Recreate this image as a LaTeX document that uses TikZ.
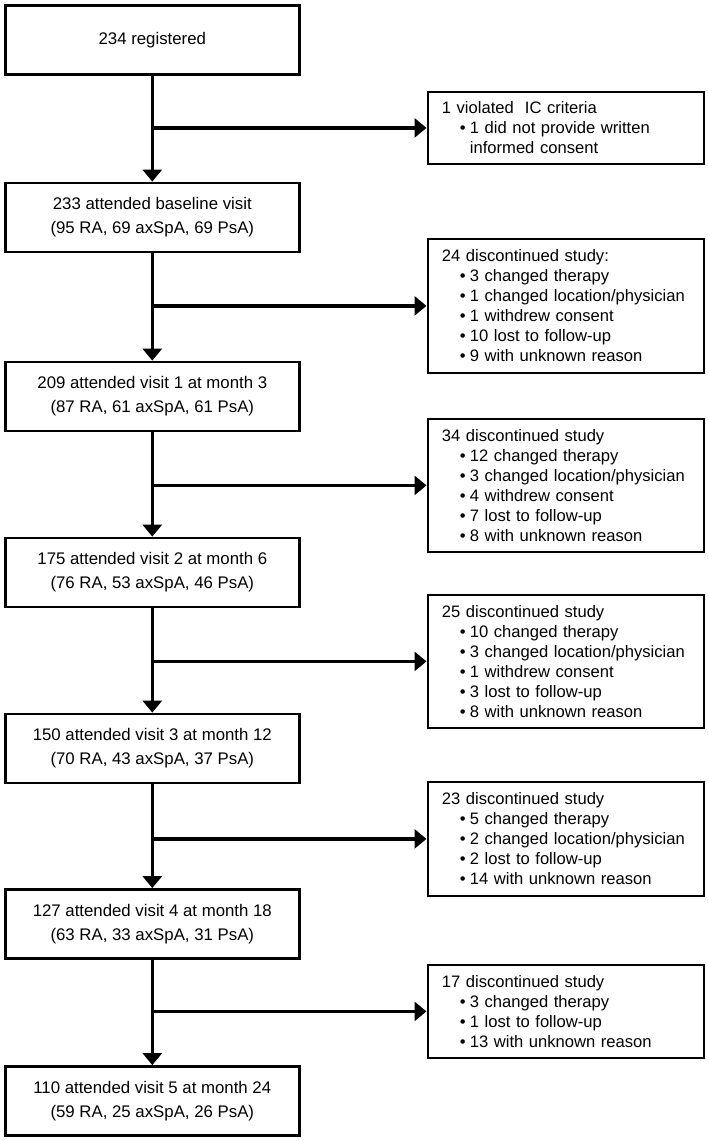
\documentclass[tikz,border=0pt]{standalone}
\usepackage{fontspec}
\setmainfont{Liberation Sans}
\usetikzlibrary{arrows.meta}
\newcommand\itm[1]{\hspace*{18pt}\makebox[10pt][l]{•}#1}
\begin{document}
\begin{tikzpicture}[x=1pt,y=-1pt,
  lbox/.style={draw, line width=2.8pt, minimum width=294pt, minimum height=69pt,
    align=center, inner sep=0pt, font=\fontsize{16.8}{24}\selectfont},
  rbox/.style={draw, line width=2.8pt, anchor=north west, align=left,
    text width=248pt, inner xsep=14pt, inner ysep=0pt,
    font=\fontsize{16.6}{20}\selectfont},
  arr/.style={line width=3.2pt, -{Triangle[length=12pt,width=19pt]}}]
\useasboundingbox (0,0) rectangle (708,1141);
\fill[white] (0,0) rectangle (708,1141);

% main column
\node[lbox] (b1) at (152.3,40) {234 registered};
\node[lbox] (b2) at (152.3,217.5) {233 attended baseline visit\\(95 RA, 69 axSpA, 69 PsA)};
\node[lbox] (b3) at (152.3,396.5) {209 attended visit 1 at month 3\\(87 RA, 61 axSpA, 61 PsA)};
\node[lbox] (b4) at (152.3,572.5) {175 attended visit 2 at month 6\\(76 RA, 53 axSpA, 46 PsA)};
\node[lbox] (b5) at (152.3,748.5) {150 attended visit 3 at month 12\\(70 RA, 43 axSpA, 37 PsA)};
\node[lbox] (b6) at (152.3,924) {127 attended visit 4 at month 18\\(63 RA, 33 axSpA, 31 PsA)};
\node[lbox] (b7) at (152.3,1101) {110 attended visit 5 at month 24\\(59 RA, 25 axSpA, 26 PsA)};

% side boxes
\node[rbox, minimum height=72pt] (r1) at (426.5,90.5) {1 violated\ \ IC criteria\\
  \itm{1 did not provide written}\\
  \hspace*{28pt}informed consent};
\node[rbox, minimum height=134pt] (r2) at (426.5,237.5) {24 discontinued study:\\
  \itm{3 changed therapy}\\
  \itm{1 changed location/physician}\\
  \itm{1 withdrew consent}\\
  \itm{10 lost to follow-up}\\
  \itm{9 with unknown reason}};
\node[rbox, minimum height=133pt] (r3) at (426.5,417.5) {34 discontinued study\\
  \itm{12 changed therapy}\\
  \itm{3 changed location/physician}\\
  \itm{4 withdrew consent}\\
  \itm{7 lost to follow-up}\\
  \itm{8 with unknown reason}};
\node[rbox, minimum height=133pt] (r4) at (426.5,593.5) {25 discontinued study\\
  \itm{10 changed therapy}\\
  \itm{3 changed location/physician}\\
  \itm{1 withdrew consent}\\
  \itm{3 lost to follow-up}\\
  \itm{8 with unknown reason}};
\node[rbox, minimum height=114pt] (r5) at (426.5,780.5) {23 discontinued study\\
  \itm{5 changed therapy}\\
  \itm{2 changed location/physician}\\
  \itm{2 lost to follow-up}\\
  \itm{14 with unknown reason}};
\node[rbox, minimum height=93pt] (r6) at (426.5,963.5) {17 discontinued study\\
  \itm{3 changed therapy}\\
  \itm{1 lost to follow-up}\\
  \itm{13 with unknown reason}};

% vertical flow
\draw[arr] (b1) -- (b2);
\draw[arr] (b2) -- (b3);
\draw[arr] (b3) -- (b4);
\draw[arr] (b4) -- (b5);
\draw[arr] (b5) -- (b6);
\draw[arr] (b6) -- (b7);

% branches
\draw[arr] (b1 |- r1.west) -- (r1.west);
\draw[arr] (b2 |- r2.west) -- (r2.west);
\draw[arr] (b3 |- r3.west) -- (r3.west);
\draw[arr] (b4 |- r4.west) -- (r4.west);
\draw[arr] (b5 |- r5.west) -- (r5.west);
\draw[arr] (b6 |- r6.west) -- (r6.west);
\end{tikzpicture}
\end{document}
